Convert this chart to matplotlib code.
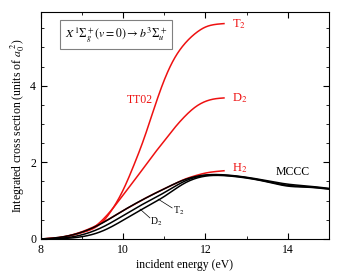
import numpy as np
import matplotlib
matplotlib.use("Agg")
import matplotlib.pyplot as plt
from matplotlib.ticker import MultipleLocator

plt.rcParams['font.family'] = ['Liberation Serif', 'DejaVu Serif']
plt.rcParams['mathtext.fontset'] = 'stix'

# MCCC results (black)
e_mccc = [8.0, 8.5, 9.0, 9.5, 10.0, 10.5, 11.0, 11.5, 12.0, 12.5, 13.0, 13.5, 14.0, 14.5, 15.0]
mccc_h2 = [0.0, 0.05, 0.18, 0.42, 0.74, 1.04, 1.31, 1.55, 1.67, 1.67, 1.61, 1.52, 1.43, 1.38, 1.32]
mccc_t2 = [0.0, 0.02, 0.11, 0.31, 0.61, 0.92, 1.21, 1.51, 1.66, 1.66, 1.60, 1.50, 1.40, 1.36, 1.31]
mccc_d2 = [0.0, 0.01, 0.06, 0.21, 0.49, 0.8, 1.11, 1.46, 1.64, 1.65, 1.59, 1.49, 1.38, 1.35, 1.30]

# TT02 results (red)
e_tt = [8.0, 8.5, 9.0, 9.25, 9.5, 9.75, 10.0, 10.25, 10.5, 10.75, 11.0, 11.25, 11.5, 11.75, 12.0, 12.25, 12.45]
tt_t2 = [0.0, 0.04, 0.17, 0.26, 0.45, 0.8, 1.28, 1.9, 2.6, 3.4, 4.15, 4.72, 5.1, 5.36, 5.53, 5.6, 5.62]
tt_d2 = [0.0, 0.04, 0.17, 0.28, 0.5, 0.8, 1.15, 1.5, 1.86, 2.22, 2.56, 2.9, 3.2, 3.44, 3.59, 3.66, 3.68]
tt_h2 = [0.0, 0.05, 0.19, 0.3, 0.43, 0.58, 0.74, 0.89, 1.04, 1.18, 1.31, 1.44, 1.56, 1.65, 1.72, 1.76, 1.78]


def spline(x, y, n=300):
    # natural cubic spline through the read points
    x = np.asarray(x, float)
    y = np.asarray(y, float)
    m = len(x)
    h = np.diff(x)
    A = np.zeros((m, m))
    b = np.zeros(m)
    A[0, 0] = A[-1, -1] = 1
    for i in range(1, m - 1):
        A[i, i - 1] = h[i - 1]
        A[i, i] = 2 * (h[i - 1] + h[i])
        A[i, i + 1] = h[i]
        b[i] = 6 * ((y[i + 1] - y[i]) / h[i] - (y[i] - y[i - 1]) / h[i - 1])
    M = np.linalg.solve(A, b)
    xs = np.linspace(x[0], x[-1], n)
    idx = np.clip(np.searchsorted(x, xs) - 1, 0, m - 2)
    x0, x1 = x[idx], x[idx + 1]
    hh = x1 - x0
    t0, t1 = x1 - xs, xs - x0
    ys = (M[idx] * t0 ** 3 + M[idx + 1] * t1 ** 3) / (6 * hh) \
        + (y[idx] / hh - M[idx] * hh / 6) * t0 + (y[idx + 1] / hh - M[idx + 1] * hh / 6) * t1
    return xs, np.maximum(ys, 0)


fig = plt.figure(figsize=(3.38, 2.75), dpi=100)
ax = fig.add_axes([0.121, 0.131, 0.852, 0.825])

red = '#ee1111'
for y in [tt_h2, tt_d2, tt_t2]:
    ax.plot(*spline(e_tt, y), color=red, lw=1.1, zorder=2)
for y in [mccc_h2, mccc_t2, mccc_d2]:
    ax.plot(*spline(e_mccc, y), color='black', lw=1.1, zorder=3)

ax.text(12.65, 5.6, 'T$_2$', color=red, fontsize=9, va='center')
ax.text(12.65, 3.68, 'D$_2$', color=red, fontsize=9, va='center')
ax.text(12.65, 1.85, 'H$_2$', color=red, fontsize=9, va='center')
ax.text(10.4, 3.63, 'TT02', color=red, fontsize=8.5, ha='center', va='center')
ax.text(14.12, 1.75, 'MCCC', color='black', fontsize=8.5, ha='center', va='center')

ax.plot([10.85, 11.19], [1.04, 0.81], color='black', lw=0.5)
ax.text(11.2, 0.74, 'T$_2$', fontsize=7, va='center')
ax.plot([10.41, 10.65], [0.78, 0.55], color='black', lw=0.5)
ax.text(10.64, 0.45, 'D$_2$', fontsize=7, va='center')

ax.text(8.58, 5.33, r'$X\,^1\Sigma_g^+(v=0) \rightarrow b\,^3\Sigma_u^+$', fontsize=8.5,
        va='center', ha='left',
        bbox=dict(boxstyle='square,pad=0.4', facecolor='white', edgecolor='gray', lw=0.8))

ax.set_xlim(8, 15)
ax.set_ylim(0, 5.92)
ax.xaxis.set_major_locator(MultipleLocator(2))
ax.xaxis.set_minor_locator(MultipleLocator(1))
ax.yaxis.set_major_locator(MultipleLocator(2))
ax.yaxis.set_minor_locator(MultipleLocator(0.5))
ax.tick_params(which='both', direction='in', top=True, right=True, labelsize=8.5)
ax.tick_params(which='major', length=4)
ax.tick_params(which='minor', length=2)
ax.set_xlabel('incident energy (eV)', fontsize=8.5, labelpad=2)
ax.set_ylabel('Integrated cross section (units of $a_0^{\\ 2}$)', fontsize=8.5, labelpad=2)

fig.savefig('out.png', dpi=100)
